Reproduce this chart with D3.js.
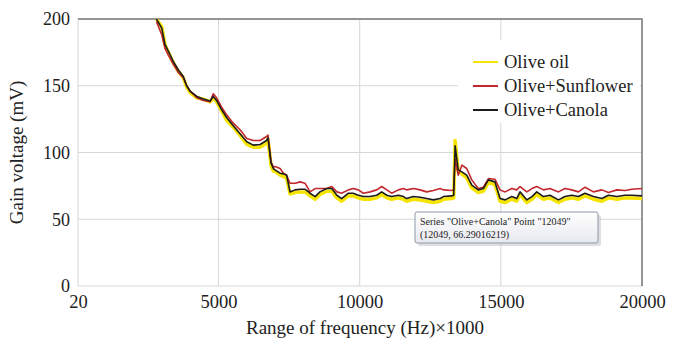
<!DOCTYPE html>
<html>
<head>
<meta charset="utf-8">
<script src="https://cdn.jsdelivr.net/npm/d3@7"></script>
<style>
  body { margin: 0; background: #fff; }
  #canvas { width: 678px; height: 343px; }
  text { font-family: "Liberation Serif", "Times New Roman", serif; fill: #222; }
</style>
</head>
<body>
<div id="canvas"></div>
<script>
// frequency points (x 1000 Hz)
var freq = [2800, 2990, 3100, 3220, 3400, 3570, 3750, 3870, 3990, 4230, 4460, 4700, 4810, 4930,
  5110, 5290, 5520, 5760, 6000, 6230, 6470, 6700, 6750, 6860, 6940, 7000, 7180, 7300, 7410,
  7530, 7710, 7890, 8060, 8240, 8420, 8590, 8830, 9010, 9190, 9360, 9600, 9770, 9950,
  10130, 10370, 10600, 10780, 10960, 11130, 11370, 11550, 11660, 11900, 12140, 12370, 12610,
  12850, 12960, 13260, 13330, 13380, 13490, 13620, 13790, 13970, 14200, 14380, 14560, 14790,
  14970, 15150, 15390, 15560, 15680, 15920, 16100, 16270, 16510, 16740, 17040, 17270, 17510,
  17750, 17980, 18280, 18580, 18810, 19110, 19400, 19640, 20000]

var oliveOil = [200, 194, 181, 175, 167, 161, 156, 149, 145, 141, 140, 138, 141, 138,
  131, 124, 119, 113, 106, 104, 104, 107, 110, 90, 86, 86, 83, 82, 81,
  69, 70, 70.5, 70.5, 67.5, 65, 68.5, 71, 71, 66, 63.5, 67.5, 67.5, 66,
  65, 65, 66, 68.5, 66, 65, 66, 65, 63.5, 65, 64.5, 63.5, 62.5,
  63.5, 65, 65.5, 66, 109, 86, 84, 81, 73.5, 70, 71, 77.5, 76,
  63.5, 62.5, 65, 63.5, 68.5, 62.5, 65, 68.5, 65, 66, 62.5, 65, 66,
  65, 67.5, 65, 63.5, 66, 65, 66, 66, 65.5]

var oliveSunflower = [198, 188, 178, 173, 166, 160, 156, 150, 146, 141, 139, 138, 144, 141,
  134, 128, 122, 117, 110.5, 109, 109, 112, 113, 93, 89, 89.5, 88, 84.5, 83,
  77, 77, 78, 77, 70.5, 73, 73, 73, 74.5, 70.5, 69.5, 72, 73, 72,
  69.5, 70.5, 72, 74.5, 72, 69.5, 72, 73, 72, 73, 72, 70.5, 71.5,
  73, 72, 71.5, 72, 95, 83, 90.5, 88, 79.5, 73, 74, 80.5, 80,
  72, 70.5, 73, 72, 74.5, 70.5, 73, 74.5, 72, 73, 70.5, 73, 72,
  70.5, 74, 70.5, 72, 70, 72, 71.5, 72.5, 73]

var oliveCanola = [200, 193, 181, 176, 168, 162, 157, 150, 146, 142, 140, 138.5, 142, 139,
  132, 126, 120, 114, 108, 105.5, 106, 109, 111, 92, 88, 87, 84.5, 84, 83,
  70.5, 72, 72.5, 72.5, 69.5, 67, 70.5, 73, 73, 68, 65.5, 69.5, 69.5, 68,
  67, 67, 68, 70.5, 68, 67, 68, 67, 65.5, 67, 66.5, 65.5, 64.5,
  65.5, 67, 67.5, 68, 105, 87, 85.5, 83, 75.5, 72, 73, 79.5, 78,
  65.5, 64.5, 67, 65.5, 70.5, 64.5, 67, 70.5, 67, 68, 64.5, 67, 68,
  67, 69.5, 67, 65.5, 68, 67, 68, 68, 67.5]

var seriesNames = ['Olive oil', 'Olive+Sunflower', 'Olive+Canola']
var seriesColors = ['#f5e400', '#c1272d', '#1c1c1c']
var seriesWidths = [3.5, 1.6, 1.6]
var xTicks = [20, 5000, 10000, 15000, 20000]
var yTicks = [0, 50, 100, 150, 200]

var margin = {top: 19, right: 36, bottom: 57, left: 78},
  width = 678 - margin.left - margin.right,
  height = 343 - margin.top - margin.bottom

var svg = d3.select('#canvas')
  .append('svg')
    .attr('width', 678)
    .attr('height', 343)
  .append('g')
    .attr('transform', 'translate(' + margin.left + ',' + margin.top + ')')

var x = d3.scaleLinear().domain([20, 20000]).range([0, width])
var y = d3.scaleLinear().domain([0, 200]).range([height, 0])

// grid
svg.selectAll('line.hgrid')
  .data(yTicks)
  .enter()
  .append('line')
    .attr('x1', 0).attr('x2', width)
    .attr('y1', d => y(d)).attr('y2', d => y(d))
    .attr('stroke', '#d6d6d6')
svg.selectAll('line.vgrid')
  .data(xTicks)
  .enter()
  .append('line')
    .attr('y1', 0).attr('y2', height)
    .attr('x1', d => x(d)).attr('x2', d => x(d))
    .attr('stroke', '#d6d6d6')

// dark top and right border
svg.append('path')
  .attr('d', 'M0,0H' + width + 'V' + height)
  .attr('fill', 'none')
  .attr('stroke', '#7a7a7a')
  .attr('stroke-width', 1.5)

svg.append('clipPath').attr('id', 'clip')
  .append('rect').attr('width', width).attr('height', height)

var allSeries = [oliveOil, oliveSunflower, oliveCanola]
var line = d3.line()
  .x((d, i) => x(freq[i]))
  .y(d => y(d))

svg.append('g').attr('clip-path', 'url(#clip)')
  .selectAll('path')
  .data(allSeries)
  .enter()
  .append('path')
    .attr('d', line)
    .attr('fill', 'none')
    .attr('stroke', (d, i) => seriesColors[i])
    .attr('stroke-width', (d, i) => seriesWidths[i])
    .attr('stroke-linejoin', 'round')

// axes
var yAxis = svg.append('g')
  .call(d3.axisLeft(y).tickValues(yTicks).tickSize(0).tickPadding(8))
yAxis.select('.domain').remove()
yAxis.selectAll('text')
  .attr('font-family', '"Liberation Serif", serif')
  .attr('font-size', 18)
  .attr('fill', '#222')

var xAxis = svg.append('g')
  .attr('transform', 'translate(0,' + height + ')')
  .call(d3.axisBottom(x).tickValues(xTicks).tickFormat(d3.format('d')).tickSize(0).tickPadding(9))
xAxis.select('.domain').remove()
xAxis.selectAll('text')
  .attr('font-family', '"Liberation Serif", serif')
  .attr('font-size', 18.5)
  .attr('fill', '#222')

svg.append('text')
  .attr('transform', 'translate(-55,' + (height / 2) + ') rotate(-90)')
  .attr('text-anchor', 'middle')
  .attr('font-size', 19)
  .text('Gain voltage (mV)')

svg.append('text')
  .attr('x', width / 2 + 5)
  .attr('y', height + 48)
  .attr('text-anchor', 'middle')
  .attr('font-size', 19)
  .text('Range of frequency (Hz)\u00d71000')

// legend
var legend = svg.append('g').attr('transform', 'translate(380,21)')
legend.append('rect')
  .attr('width', 182).attr('height', 83)
  .attr('fill', '#fff')
var item = legend.selectAll('g.item')
  .data(seriesNames)
  .enter()
  .append('g')
    .attr('transform', (d, i) => 'translate(15,' + (22 + i * 24) + ')')
item.append('line')
  .attr('x1', 0).attr('x2', 25)
  .attr('stroke', (d, i) => seriesColors[i])
  .attr('stroke-width', 2)
item.append('text')
  .attr('x', 31).attr('y', 6)
  .attr('font-size', 18.5)
  .text(d => d)

// tooltip box
var tip = svg.append('g').attr('transform', 'translate(337,193)')
var grad = svg.append('defs').append('linearGradient')
  .attr('id', 'tipgrad').attr('x1', 0).attr('y1', 0).attr('x2', 0).attr('y2', 1)
grad.append('stop').attr('offset', 0).attr('stop-color', '#ffffff')
grad.append('stop').attr('offset', 1).attr('stop-color', '#e8e9ef')
tip.append('rect')
  .attr('x', 3).attr('y', 3).attr('width', 183).attr('height', 31)
  .attr('rx', 2).attr('fill', '#c9c9cf').attr('opacity', 0.6)
tip.append('rect')
  .attr('width', 183).attr('height', 31).attr('rx', 2)
  .attr('fill', 'url(#tipgrad)')
  .attr('stroke', '#8f97aa')
tip.selectAll('text')
  .data(['Series "Olive+Canola" Point "12049"', '(12049, 66.29016219)'])
  .enter()
  .append('text')
    .attr('x', 5)
    .attr('y', (d, i) => 13 + i * 13)
    .attr('font-family', '"Liberation Sans", sans-serif')
    .attr('font-size', 10)
    .attr('fill', '#4a4a55')
    .text(d => d)
</script>
</body>
</html>
